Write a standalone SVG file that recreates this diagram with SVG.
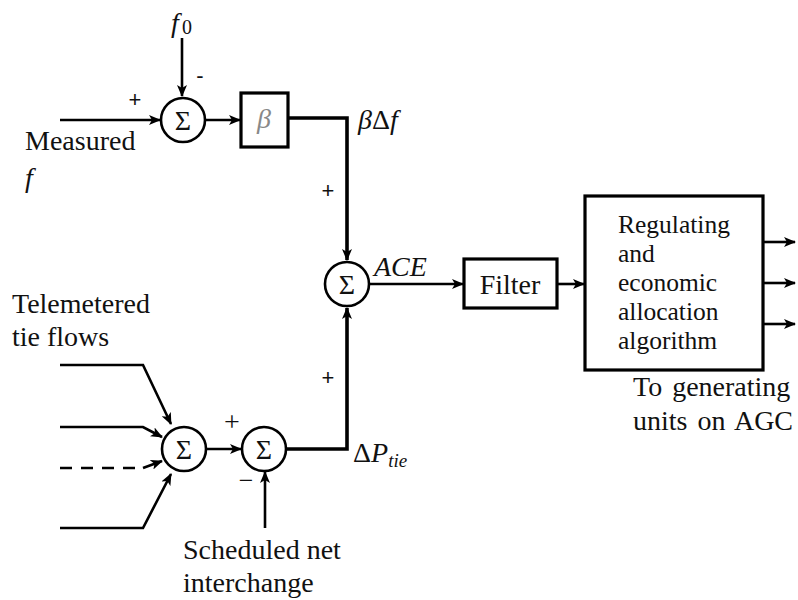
<svg xmlns="http://www.w3.org/2000/svg" width="798" height="600" viewBox="0 0 798 600">
<style>
.ln{fill:none;stroke:#000;stroke-width:2.6;stroke-linejoin:miter}
.th{stroke-width:3.6}
.sum{fill:#fff;stroke:#000;stroke-width:2.6}
.box{fill:#fff;stroke:#000;stroke-width:3.2}
text{font-family:"Liberation Serif","Times New Roman",serif;font-size:28px;fill:#111}
.it{font-style:italic}
.sg{font-size:28px;text-anchor:middle}
.bx{font-size:25.5px}
.pm{font-family:"Liberation Sans",Arial,sans-serif;font-size:22px;text-anchor:middle}
</style>
<defs>
<marker id="ar" viewBox="0 0 12 10" refX="11" refY="5" markerWidth="12" markerHeight="10" markerUnits="userSpaceOnUse" orient="auto">
<path d="M0,0 L12,5 L0,10 L3,5 Z" fill="#000"/>
</marker>
</defs>
<g id="connectors">
<path class="ln" d="M182,38 V96" marker-end="url(#ar)"/>
<path class="ln" d="M60,120 H160" marker-end="url(#ar)"/>
<path class="ln" d="M206,120 H240" marker-end="url(#ar)"/>
<path class="ln th" d="M288,118 H347 V260" marker-end="url(#ar)"/>
<path class="ln" d="M370,284 H463" marker-end="url(#ar)"/>
<path class="ln" d="M557,284 H584" marker-end="url(#ar)"/>
<path class="ln" d="M763,242 H795" marker-end="url(#ar)"/>
<path class="ln" d="M763,283 H795" marker-end="url(#ar)"/>
<path class="ln" d="M763,324 H795" marker-end="url(#ar)"/>
<path class="ln" d="M60,365 H143 L171,424" marker-end="url(#ar)"/>
<path class="ln" d="M60,427 H143 L162,437" marker-end="url(#ar)"/>
<path class="ln" d="M60,468 H143" stroke-dasharray="12,9"/>
<path class="ln" d="M143,468 L162,461" marker-end="url(#ar)"/>
<path class="ln" d="M60,528 H143 L171,474" marker-end="url(#ar)"/>
<path class="ln" d="M206,449 H241" marker-end="url(#ar)"/>
<path class="ln" d="M265,528 V472" marker-end="url(#ar)"/>
<path class="ln th" d="M287,449 H347 V308" marker-end="url(#ar)"/>
</g>
<g id="sum1"><circle class="sum" cx="183" cy="120" r="22"/><text class="sg" x="183" y="130">Σ</text></g>
<g id="beta"><rect class="box" x="241" y="93" width="47" height="54"/><text class="it" x="264" y="128" text-anchor="middle" style="fill:#888">β</text></g>
<g id="sum3"><circle class="sum" cx="347" cy="284" r="22"/><text class="sg" x="347" y="294">Σ</text></g>
<g id="filter"><rect class="box" x="464" y="259" width="93" height="49"/><text x="510" y="294" text-anchor="middle">Filter</text></g>
<g id="alloc"><rect class="box" x="585" y="196" width="178" height="174"/>
<text class="bx" x="618" y="233">Regulating</text><text class="bx" x="618" y="262">and</text><text class="bx" x="618" y="291">economic</text><text class="bx" x="618" y="320">allocation</text><text class="bx" x="618" y="349">algorithm</text></g>
<g id="sum4"><circle class="sum" cx="184" cy="449" r="22"/><text class="sg" x="184" y="459">Σ</text></g>
<g id="sum5"><circle class="sum" cx="264" cy="449" r="22"/><text class="sg" x="264" y="459">Σ</text></g>
<g id="labels">
<text class="it" x="171" y="32">f</text><text x="182" y="34" style="font-size:20px">0</text>
<text class="pm" x="200" y="83">-</text>
<text class="pm" x="135" y="107">+</text>
<text x="25" y="150">Measured</text>
<text class="it" x="25" y="187">f</text>
<text x="358" y="129"><tspan font-style="italic">β</tspan>Δ<tspan font-style="italic">f</tspan></text>
<text class="pm" x="328" y="198">+</text>
<text class="it" x="374" y="276">ACE</text>
<text class="pm" x="328" y="385">+</text>
<text x="353" y="462">Δ<tspan font-style="italic">P</tspan><tspan font-style="italic" font-size="19" dy="5">tie</tspan></text>
<text x="12" y="313">Telemetered</text>
<text x="12" y="346">tie flows</text>
<text x="232" y="431" text-anchor="middle" style="font-size:28px">+</text>
<text x="246" y="489" text-anchor="middle" style="font-size:26px">−</text>
<text x="183" y="559">Scheduled net</text>
<text x="183" y="592">interchange</text>
<text x="633" y="396" word-spacing="3">To generating</text>
<text x="633" y="430" word-spacing="3">units on AGC</text>
</g>
</svg>
